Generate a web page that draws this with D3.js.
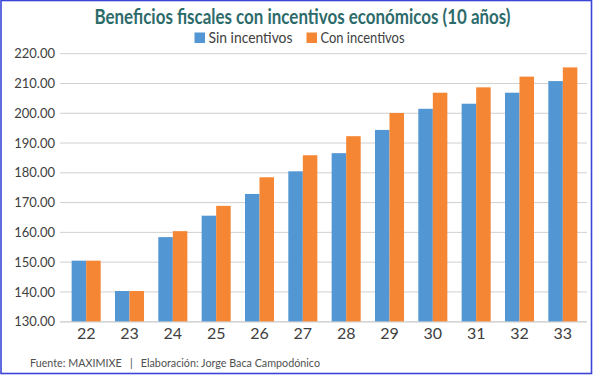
<html>
<head>
<script src="https://cdnjs.cloudflare.com/ajax/libs/d3/7.8.5/d3.min.js"></script>
<style>
    body { margin: 0; background: #fff; }
    svg { display: block; font-family: Lato, "Open Sans", sans-serif; }
    .tick text { fill: #404040; }
</style>
</head>
<body>
<script type="text/javascript">
    var years = ["22", "23", "24", "25", "26", "27", "28", "29", "30", "31", "32", "33"];
    var sinIncentivos = [150.5, 140.3, 158.4, 165.6, 172.9, 180.5, 186.6, 194.4, 201.5, 203.2, 206.9, 210.8];
    var conIncentivos = [150.5, 140.3, 160.4, 168.9, 178.5, 185.9, 192.3, 200.1, 206.9, 208.7, 212.3, 215.4];
    var seriesNames = ["Sin incentivos", "Con incentivos"];
    var yTicks = [130, 140, 150, 160, 170, 180, 190, 200, 210, 220];

    var width = 593, height = 375;
    var colors = ["#5296d3", "#f58634"];

    var svg = d3.select("body").append("svg")
        .attr("width", width)
        .attr("height", height);

    // border around the picture
    svg.append("rect")
        .attr("x", 1).attr("y", 0.5)
        .attr("width", 590.5).attr("height", 373)
        .attr("fill", "none")
        .attr("stroke", "#3b45d8")
        .attr("stroke-width", 1.6);

    var x = d3.scaleBand()
        .domain(years)
        .range([64.5, 584.5])
        .paddingInner(0.33)
        .paddingOuter(0.165);

    var x1 = d3.scaleBand()
        .domain([0, 1])
        .range([0, x.bandwidth()]);

    var y = d3.scaleLinear()
        .domain([130, 220])
        .range([321.7, 53.7]);

    // grid lines
    svg.append("g")
        .selectAll("line")
        .data(yTicks)
        .join("line")
        .attr("x1", 60).attr("x2", 587)
        .attr("y1", d => y(d)).attr("y2", d => y(d))
        .attr("stroke", "#d0d0d0")
        .attr("stroke-width", 1);

    // y axis labels
    var yAxis = svg.append("g")
        .attr("transform", "translate(55,0)")
        .call(d3.axisLeft(y).tickValues(yTicks).tickFormat(d3.format(".2f")).tickSize(0).tickPadding(0));
    yAxis.select(".domain").remove();
    yAxis.selectAll("text")
        .attr("font-size", 13)
        .attr("font-family", "Lato, sans-serif");

    // bars
    var rows = years.map((yr, i) => ({ year: yr, values: [sinIncentivos[i], conIncentivos[i]] }));

    svg.append("g")
        .selectAll("g")
        .data(rows)
        .join("g")
        .attr("transform", d => "translate(" + x(d.year) + ",0)")
        .selectAll("rect")
        .data(d => d.values.map((v, k) => ({ k: k, v: v })))
        .join("rect")
        .attr("x", d => x1(d.k))
        .attr("width", x1.bandwidth())
        .attr("y", d => y(d.v))
        .attr("height", d => y(130) - y(d.v))
        .attr("fill", d => colors[d.k]);

    // x axis labels
    var xAxis = svg.append("g")
        .attr("transform", "translate(0,322)")
        .call(d3.axisBottom(x).tickSize(0).tickPadding(6));
    xAxis.select(".domain")
        .attr("d", "M60,0H587")
        .attr("stroke", "#d0d0d0");
    xAxis.selectAll("text")
        .attr("font-size", 16)
        .attr("font-family", "Lato, sans-serif")
        .attr("fill", "#333");

    // title
    svg.append("text")
        .attr("x", 302.5).attr("y", 23.5)
        .attr("text-anchor", "middle")
        .attr("font-size", 20)
        .attr("font-weight", "bold")
        .attr("fill", "#2d6b6b")
        .attr("textLength", 416)
        .attr("lengthAdjust", "spacingAndGlyphs")
        .text("Beneficios fiscales con incentivos económicos (10 años)");

    // legend
    var legendX = [194.5, 306.5];
    var legend = svg.append("g")
        .selectAll("g")
        .data(seriesNames)
        .join("g")
        .attr("transform", (d, i) => "translate(" + legendX[i] + ",32.5)");
    legend.append("rect")
        .attr("width", 10.5).attr("height", 10.5)
        .attr("fill", (d, i) => colors[i]);
    legend.append("text")
        .attr("x", 14).attr("y", 10.5)
        .attr("font-size", 15)
        .attr("fill", "#404040")
        .attr("textLength", 84)
        .attr("lengthAdjust", "spacingAndGlyphs")
        .text(d => d);

    // footer
    svg.append("text")
        .attr("x", 30).attr("y", 367)
        .attr("font-size", 11.5)
        .attr("fill", "#505050")
        .attr("textLength", 290)
        .attr("lengthAdjust", "spacingAndGlyphs")
        .attr("xml:space", "preserve")
        .text("Fuente: MAXIMIXE   |   Elaboración: Jorge Baca Campodónico");
</script>
</body>
</html>
